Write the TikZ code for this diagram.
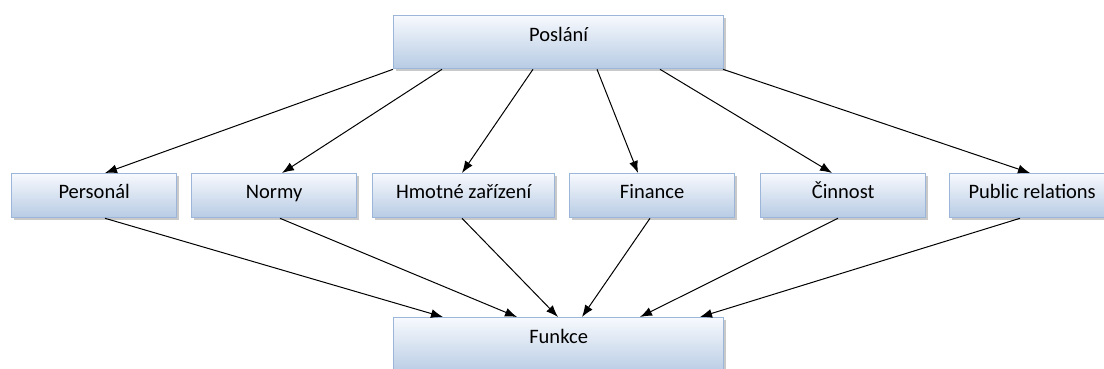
\documentclass[tikz,border=0pt]{standalone}
\usepackage{fontspec}
\setmainfont{Carlito}
\usetikzlibrary{arrows.meta,shadows}
\definecolor{boxtop}{HTML}{F7F9FD}
\definecolor{boxbot}{HTML}{B7CBE4}
\definecolor{boxline}{HTML}{9BB6D9}
\tikzset{
  box/.style={draw=boxline, line width=1.3pt, top color=boxtop, bottom color=boxbot,
    inner xsep=0pt, inner ysep=0pt, anchor=north west, align=center,
    font=\fontsize{20.5}{24}\selectfont,
    drop shadow={shadow xshift=2.5pt, shadow yshift=-2.5pt, opacity=0.3, fill=black!70}},
  bigbox/.style={box, minimum width=330pt, text height=26pt, text depth=27pt},
  midbox/.style={box, minimum width=165pt, text height=25pt, text depth=19pt},
  arr/.style={draw=black, line width=1pt, -{Latex[length=12pt,width=9pt]}}
}
\begin{document}
\begin{tikzpicture}[x=1pt,y=-1pt]
\useasboundingbox (0,0) rectangle (1104,369);
\node[bigbox] (posl) at (393,15) {Poslání};
\node[midbox] (pers) at (11,173) {Personál};
\node[midbox] (norm) at (191,173) {Normy};
\node[midbox, minimum width=182pt] (hmot) at (372,173) {Hmotné zařízení};
\node[midbox] (fin) at (569,173) {Finance};
\node[midbox] (cinn) at (760,173) {Činnost};
\node[midbox] (pr) at (949,173) {Public relations};
\node[bigbox, text depth=31pt] (funk) at (393,317) {Funkce};

\draw[arr] ([xshift=0pt]posl.south west) -- ([xshift=94pt]pers.north west);
\draw[arr] ([xshift=49pt]posl.south west) -- ([xshift=91pt]norm.north west);
\draw[arr] ([xshift=140pt]posl.south west) -- ([xshift=90pt]hmot.north west);
\draw[arr] ([xshift=204pt]posl.south west) -- ([xshift=69pt]fin.north west);
\draw[arr] ([xshift=267pt]posl.south west) -- ([xshift=72pt]cinn.north west);
\draw[arr] ([xshift=330pt]posl.south west) -- ([xshift=81pt]pr.north west);

\draw[arr] ([xshift=94pt]pers.south west) -- ([xshift=50pt]funk.north west);
\draw[arr] ([xshift=89pt]norm.south west) -- ([xshift=124pt]funk.north west);
\draw[arr] ([xshift=90pt]hmot.south west) -- ([xshift=165pt]funk.north west);
\draw[arr] ([xshift=81pt]fin.south west) -- ([xshift=189pt]funk.north west);
\draw[arr] ([xshift=78pt]cinn.south west) -- ([xshift=247pt]funk.north west);
\draw[arr] ([xshift=71pt]pr.south west) -- ([xshift=307pt]funk.north west);
\end{tikzpicture}
\end{document}
